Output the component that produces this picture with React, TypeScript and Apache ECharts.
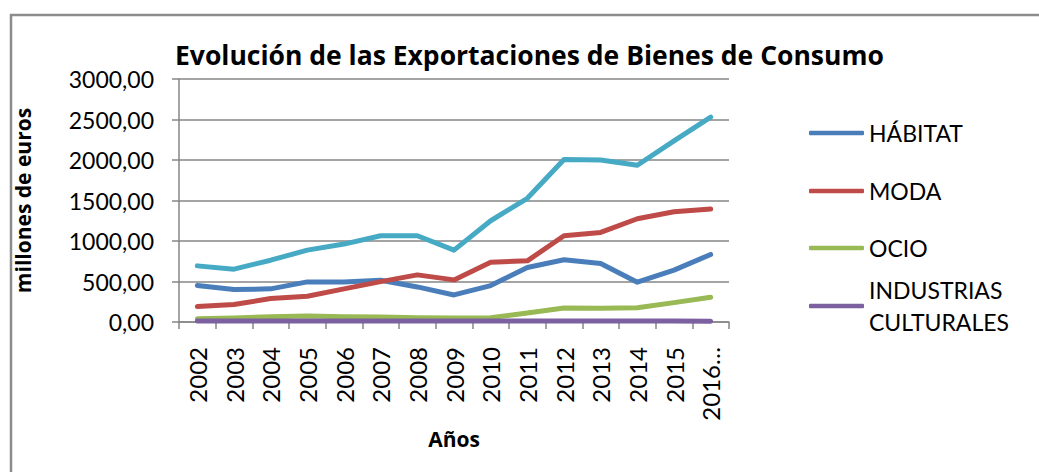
import React, { useEffect, useRef } from "react";
import * as echarts from "echarts";

const years = ["2002","2003","2004","2005","2006","2007","2008","2009","2010","2011","2012","2013","2014","2015","2016…"];
const habitat = [450, 400, 409, 495, 495, 516, 433, 334, 450, 673, 768, 722, 491, 640, 834];
const moda = [190, 215, 289, 318, 409, 499, 582, 520, 739, 755, 1065, 1106, 1275, 1362, 1395];
const ocio = [41, 50, 66, 74, 66, 62, 54, 50, 54, 111, 173, 169, 177, 239, 305];
const industrias = [12, 12, 13, 13, 12, 12, 12, 11, 11, 11, 12, 11, 12, 11, 10];
const total = [693, 652, 763, 887, 962, 1065, 1065, 887, 1250, 1527, 2006, 2001, 1935, 2237, 2530];
const yTicks = { min: 0, max: 3000, interval: 500 };

const FONT = "Lato";
const BOLD = "Open Sans";
const GRAY = "#868686";

export default function App() {
  const ref = useRef<HTMLDivElement>(null);
  useEffect(() => {
    if (!ref.current) return;
    const chart = echarts.init(ref.current, null, { renderer: "svg" });
    const mkLegend = (name: string, top: number, extra: any = {}) => ({
      orient: "vertical",
      left: 809,
      top,
      padding: 0,
      icon: "roundRect",
      itemWidth: 55,
      itemHeight: 4.5,
      textStyle: { fontFamily: FONT, fontSize: 23, color: "#000", lineHeight: 32, ...extra },
      data: [name],
      selectedMode: false,
    });
    const line = (name: string, data: number[], color: string) => ({
      name,
      type: "line",
      data,
      symbol: "none",
      lineStyle: { width: 5, color, cap: "round", join: "round" },
      itemStyle: { color },
    });
    chart.setOption({
      animation: false,
      backgroundColor: "#fff",
      textStyle: { fontFamily: FONT },
      title: {
        text: "Evolución de las Exportaciones de Bienes de Consumo",
        left: 175,
        top: 41,
        padding: 0,
        textStyle: { fontFamily: BOLD, fontSize: 26.5, fontWeight: "bold", color: "#000" },
      },
      graphic: [
        {
          type: "polyline",
          shape: { points: [[1100, 15], [11, 15], [11, 520]] },
          style: { fill: "none", stroke: "#8c8c8c", lineWidth: 2.5 },
          silent: true,
        },
      ],
      legend: [
        mkLegend("HÁBITAT", 133 - 16),
        mkLegend("MODA", 191 - 16),
        mkLegend("OCIO", 248 - 16),
        {
          ...mkLegend("INDUSTRIAS CULTURALES", 306 - 48, { padding: [32, 0, 0, 0] }),
          formatter: () => "INDUSTRIAS\nCULTURALES",
        },
      ],
      grid: { left: 179, right: 310, top: 79, bottom: 150 },
      xAxis: {
        type: "category",
        data: years,
        boundaryGap: true,
        name: "Años",
        nameLocation: "middle",
        nameGap: 105,
        nameTextStyle: { fontFamily: BOLD, fontSize: 21, fontWeight: "bold", color: "#000" },
        axisLine: { lineStyle: { color: GRAY, width: 1.5 } },
        axisTick: { show: true, length: 7, lineStyle: { color: GRAY, width: 1.5 } },
        axisLabel: { rotate: 90, margin: 25, fontFamily: FONT, fontSize: 24, color: "#000", interval: 0 },
      },
      yAxis: {
        type: "value",
        min: yTicks.min,
        max: yTicks.max,
        interval: yTicks.interval,
        name: "millones de euros",
        nameLocation: "middle",
        nameGap: 146,
        nameRotate: 90,
        nameTextStyle: { fontFamily: BOLD, fontSize: 21, fontWeight: "bold", color: "#000" },
        axisLine: { show: true, lineStyle: { color: GRAY, width: 1.5 } },
        axisTick: { show: true, length: 7, lineStyle: { color: GRAY, width: 1.5 } },
        axisLabel: {
          margin: 25,
          fontFamily: FONT,
          fontSize: 23,
          color: "#000",
          formatter: (v: number) => v.toFixed(2).replace(".", ","),
        },
        splitLine: { show: true, lineStyle: { color: GRAY, width: 1.5 } },
      },
      series: [
        line("HÁBITAT", habitat, "#4A7EBB"),
        line("MODA", moda, "#BE4B48"),
        line("OCIO", ocio, "#98B954"),
        line("INDUSTRIAS CULTURALES", industrias, "#7D60A0"),
        line("TOTAL", total, "#46AAC5"),
      ],
    });
    return () => chart.dispose();
  }, []);
  return (
    <div
      ref={ref}
      style={{ position: "fixed", left: 0, top: 0, width: 1039, height: 472 }}
    />
  );
}
